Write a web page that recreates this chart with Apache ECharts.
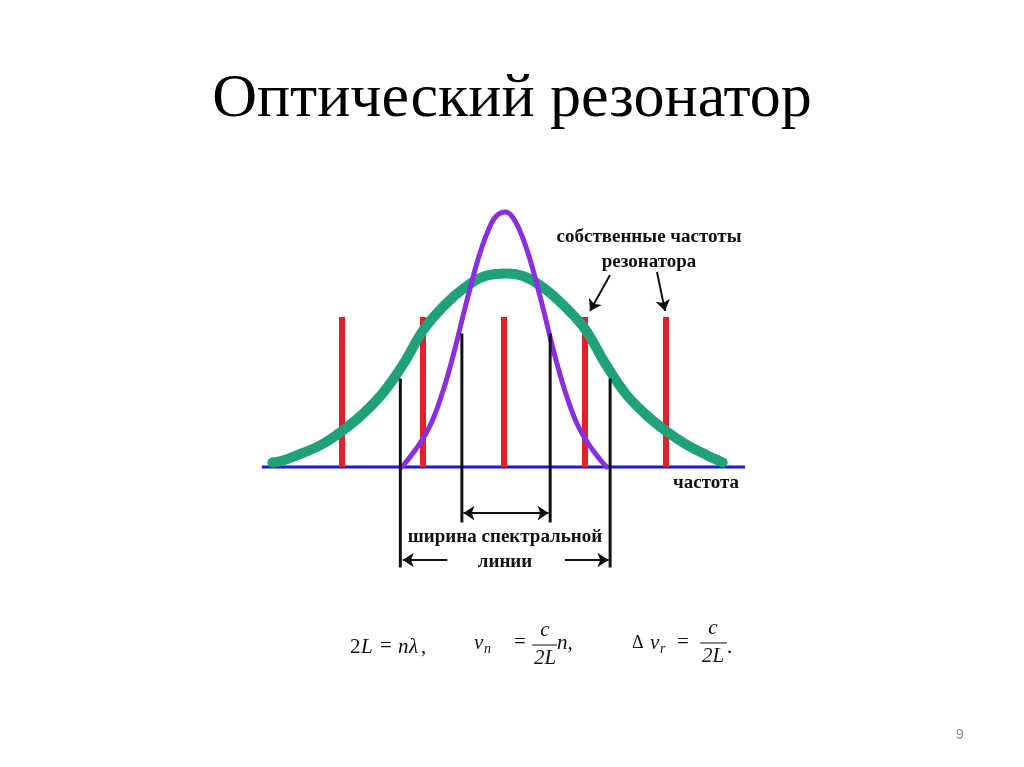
<!DOCTYPE html>
<html>
<head>
<meta charset="utf-8">
<script src="https://cdn.jsdelivr.net/npm/echarts@6/dist/echarts.min.js"></script>
<style>html,body{margin:0;padding:0;background:#fff}#c{width:1024px;height:767px}</style>
</head>
<body>
<div id="c"></div>
<script>
// Resonator eigenfrequencies (mode positions, in units of mode spacing)
const modeX = [-2, -1, 0, 1, 2];
const modeH = [1, 1, 1, 1, 1];
// Broad gain curve (green)
const gainX = [-2.86, -2.75, -2.5, -2.25, -2.0, -1.75, -1.5, -1.25, -1.0, -0.75, -0.5, -0.25, 0.03, 0.25, 0.5, 0.75, 1.0, 1.25, 1.5, 1.75, 2.0, 2.25, 2.5, 2.70];
const gainY = [0.03, 0.04, 0.09, 0.15, 0.24, 0.35, 0.49, 0.68, 0.91, 1.07, 1.19, 1.27, 1.29, 1.27, 1.19, 1.07, 0.92, 0.69, 0.49, 0.35, 0.24, 0.15, 0.08, 0.03];
// Spectral line (purple)
const lineX = [-1.26, -1.2, -1.1, -1.0, -0.9, -0.8, -0.7, -0.6, -0.5, -0.4, -0.3, -0.2, -0.1, 0.02, 0.1, 0.2, 0.3, 0.4, 0.5, 0.6, 0.7, 0.8, 0.9, 1.0, 1.1, 1.2, 1.27];
const lineY = [0.00, 0.04, 0.11, 0.19, 0.29, 0.43, 0.60, 0.80, 1.02, 1.23, 1.42, 1.57, 1.67, 1.70, 1.67, 1.57, 1.42, 1.23, 1.02, 0.80, 0.60, 0.43, 0.29, 0.19, 0.11, 0.04, 0.00];
// Width markers (black)
const edgeX = [-1.28, -0.52, 0.57, 1.31];
const edgeTop = [0.59, 0.89, 0.89, 0.59];
const edgeBottom = [-0.67, -0.37, -0.37, -0.67];
// Baseline
const axisX = [-2.99, 2.975];

const SERIF = '"Liberation Serif","Times New Roman",serif';

const chart = echarts.init(document.getElementById('c'), null, {renderer: 'canvas'});

function vlineRender(color, width) {
  return function (params, api) {
    const p0 = api.coord([api.value(0), api.value(1)]);
    const p1 = api.coord([api.value(0), api.value(2)]);
    return {type: 'line', shape: {x1: p0[0], y1: p0[1], x2: p1[0], y2: p1[1]},
            style: {stroke: color, lineWidth: width}};
  };
}

const lblText = {fontFamily: SERIF, fontWeight: 'bold', fontSize: 19, fill: '#111'};

function txt(x, y, text, style, align) {
  return {type: 'text', x: x, y: y, style: Object.assign({text: text, textAlign: align || 'left', textVerticalAlign: 'middle'}, style)};
}
const mathN = {fontFamily: SERIF, fontSize: 21, fill: '#111'};
const mathI = {fontFamily: SERIF, fontSize: 21, fontStyle: 'italic', fill: '#111'};
const mathS = {fontFamily: SERIF, fontSize: 14, fontStyle: 'italic', fill: '#111'};

const option = {
  animation: false,
  grid: {left: 261, width: 486, top: 167, height: 450},
  xAxis: {type: 'value', min: -3, max: 3, show: false},
  yAxis: {type: 'value', min: -1, max: 2, show: false},
  graphic: [
    txt(512, 100, 'Оптический резонатор', {fontFamily: SERIF, fontSize: 62, fill: '#000'}, 'center'),
    txt(649, 237, 'собственные частоты', lblText, 'center'),
    txt(649, 262, 'резонатора', lblText, 'center'),
    txt(706, 483, 'частота', lblText, 'center'),
    txt(505, 537, 'ширина спектральной', lblText, 'center'),
    txt(505, 562, 'линии', lblText, 'center'),
    // formula 1
    txt(350, 647, '2', mathN), txt(361, 647, 'L', mathI), txt(380, 646, '=', mathN),
    txt(398, 647, 'n', mathI), txt(409, 647, 'λ', mathI), txt(421, 647, ',', mathN),
    // formula 2
    txt(474, 643, 'ν', mathI), txt(484, 649, 'n', mathS), txt(514, 642, '=', mathN),
    txt(545, 630, 'c', mathI, 'center'),
    {type: 'line', shape: {x1: 532, y1: 645, x2: 557, y2: 645}, style: {stroke: '#111', lineWidth: 1}},
    txt(545, 658, '2L', mathI, 'center'),
    txt(557, 643, 'n,', mathI),
    // formula 3
    txt(632, 643, 'Δ', {fontFamily: SERIF, fontSize: 18, fill: '#111'}), txt(650, 643, 'ν', mathI), txt(660, 649, 'r', mathS),
    txt(677, 642, '=', mathN),
    txt(713, 628, 'c', mathI, 'center'),
    {type: 'line', shape: {x1: 700, y1: 643, x2: 727, y2: 643}, style: {stroke: '#111', lineWidth: 1}},
    txt(713, 656, '2L', mathI, 'center'),
    txt(727, 647, '.', mathN),
    // page number
    txt(960, 735, '9', {fontFamily: '"Liberation Sans",Arial,sans-serif', fontSize: 14, fill: '#8a8a8a'}, 'center')
  ],
  series: [
    {type: 'line', data: axisX.map(x => [x, 0]), showSymbol: false, z: 1,
     lineStyle: {color: '#1a1ad0', width: 3}},
    {type: 'custom', renderItem: vlineRender('#e0202a', 6), z: 2,
     encode: {x: 0, y: [1, 2]},
     data: modeX.map((x, i) => [x, 0, modeH[i]])},
    {type: 'line', data: gainX.map((x, i) => [x, gainY[i]]), smooth: 0.4, showSymbol: false, z: 3,
     lineStyle: {color: '#1fa27a', width: 10, cap: 'round'}},
    {type: 'line', data: lineX.map((x, i) => [x, lineY[i]]), smooth: 0.4, showSymbol: false, z: 4,
     lineStyle: {color: '#8a2fe0', width: 5, cap: 'round'}},
    {type: 'custom', renderItem: vlineRender('#111', 3), z: 5,
     encode: {x: 0, y: [1, 2]},
     data: edgeX.map((x, i) => [x, edgeBottom[i], edgeTop[i]])},
    {type: 'lines', coordinateSystem: 'cartesian2d', z: 6,
     lineStyle: {color: '#111', width: 2, opacity: 1},
     symbolSize: 11,
     data: [
       {coords: [[-0.50, -0.307], [0.55, -0.307]], symbol: ['arrow', 'arrow']},
       {coords: [[-0.70, -0.62], [-1.25, -0.62]], symbol: ['none', 'arrow']},
       {coords: [[0.75, -0.62], [1.29, -0.62]], symbol: ['none', 'arrow']},
       {coords: [[1.309, 1.28], [1.062, 1.04]], symbol: ['none', 'arrow']},
       {coords: [[1.889, 1.30], [1.988, 1.04]], symbol: ['none', 'arrow']}
     ]}
  ]
};
chart.setOption(option);
</script>
</body>
</html>
